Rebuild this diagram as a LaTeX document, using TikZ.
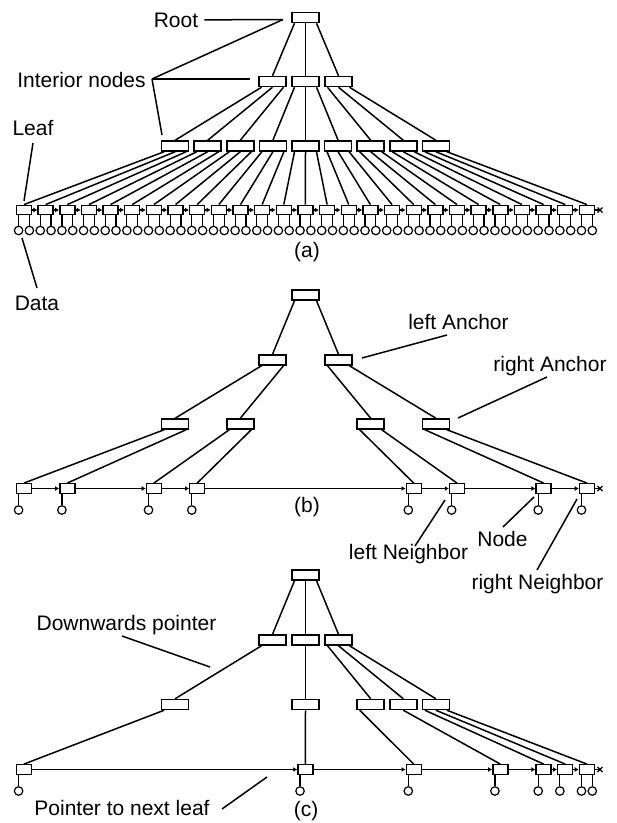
\documentclass[tikz,border=0pt]{standalone}
\usepackage{fontspec}
\setmainfont{Liberation Sans}
\usetikzlibrary{arrows.meta}
\begin{document}
\begin{tikzpicture}[x=1pt,y=-1pt,
  inode/.style={draw, line width=1.5pt, minimum width=27pt, minimum height=10pt, inner sep=0pt},
  lnode/.style={draw, line width=1.4pt, minimum width=15pt, minimum height=9.5pt, inner sep=0pt},
  dnode/.style={draw, circle, line width=1.2pt, minimum size=8.5pt, inner sep=0pt},
  lbl/.style={font=\fontsize{21}{25}\selectfont, inner sep=0pt, anchor=base},
  edge/.style={line width=1.5pt},
  stem/.style={line width=1.2pt},
  nxt/.style={line width=1.5pt, -{Latex[length=4pt,width=5pt]}},
  crossmark/.style={line width=1.2pt}]
\useasboundingbox (0,0) rectangle (617,823);

% ================= (a) =================
\node[inode] (ar) at (305.5,17.5) {};
\foreach \k in {1,2,3} \node[inode] (a2\k) at ({305.5+(\k-2)*33},81.5) {};
\foreach \j in {1,...,9} \node[inode] (a3\j) at ({305.5+(\j-5)*32.6},146) {};
\foreach \i in {1,...,27} \node[lnode] (al\i) at ({24+(\i-1)*21.65},210) {};
\foreach \i in {1,...,27} {
  \node[dnode] (adl\i) at ({24+(\i-1)*21.65-5.4},230.5) {};
  \node[dnode] (adr\i) at ({24+(\i-1)*21.65+5.4},230.5) {};
  \draw[stem] (adl\i.north |- al\i.south) -- (adl\i.north);
  \draw[stem] (adr\i.north |- al\i.south) -- (adr\i.north);
}
\foreach \k in {1,2,3} \draw[edge] ([xshift={(\k-2)*11}]ar.south) -- (a2\k.north);
\foreach \k in {1,2,3} \foreach \c in {1,2,3} {
  \pgfmathtruncatemacro\jj{3*(\k-1)+\c}
  \draw[edge] ([xshift={(\c-2)*11}]a2\k.south) -- (a3\jj.north);
}
\foreach \k in {1,...,9} \foreach \c in {1,2,3} {
  \pgfmathtruncatemacro\ii{3*(\k-1)+\c}
  \draw[edge] ([xshift={(\c-2)*11}]a3\k.south) -- (al\ii.north);
}
\foreach \i [evaluate=\i as \n using int(\i+1)] in {1,...,26} \draw[nxt] (al\i.east) -- (al\n.west);
\coordinate (aend) at (600,210);
\draw[edge] (al27.east) -- (aend);
\draw[crossmark] ([shift={(-2.5,-2.5)}]aend) -- ([shift={(2.5,2.5)}]aend);
\draw[crossmark] ([shift={(-2.5,2.5)}]aend) -- ([shift={(2.5,-2.5)}]aend);

\node[lbl] (lroot) at (176,27) {Root};
\coordinate (proot) at (283,19.5);
\draw[edge] ([xshift=6]lroot.east) -- (proot);
\node[lbl] (lint) at (81.5,87) {Interior nodes};
\coordinate (sint) at (152,79);
\coordinate (pint2) at (250,79);
\coordinate (pint3) at (162,135);
\draw[edge] (sint) -- (proot);
\draw[edge] (sint) -- (pint2);
\draw[edge] (sint) -- (pint3);
\node[lbl] (lleaf) at (33,135) {Leaf};
\coordinate (sleaf) at (33,143);
\coordinate (pleaf) at (24,201);
\draw[edge] (sleaf) -- (pleaf);
\node[lbl] (ldata) at (37,310) {Data};
\coordinate (sdata) at (37,288);
\coordinate (pdata) at (22,238);
\draw[edge] (sdata) -- (pdata);
\node[lbl] (capa) at (307,257) {(a)};

% ================= (b) =================
\node[inode] (br) at (305.5,295) {};
\node[inode] (b21) at (272.5,360) {};
\node[inode] (b23) at (338.5,360) {};
\foreach \j in {1,3,7,9} \node[inode] (b3\j) at ({305.5+(\j-5)*32.6},424) {};
\foreach \i in {1,3,7,9,19,21,25,27} {
  \node[lnode] (bl\i) at ({24+(\i-1)*21.65},488.5) {};
  \node[dnode] (bd\i) at ({24+(\i-1)*21.65-5.4},510) {};
  \draw[stem] (bd\i.north |- bl\i.south) -- (bd\i.north);
}
\foreach \p/\o/\c in {br/-11/b21, br/11/b23, b21/-11/b31, b21/11/b33, b23/-11/b37, b23/11/b39,
  b31/-11/bl1, b31/11/bl3, b33/-11/bl7, b33/11/bl9, b37/-11/bl19, b37/11/bl21, b39/-11/bl25, b39/11/bl27}
  \draw[edge] ([xshift=\o]\p.south) -- (\c.north);
\foreach \a/\b in {1/3, 3/7, 7/9, 9/19, 19/21, 21/25, 25/27} \draw[nxt] (bl\a.east) -- (bl\b.west);
\coordinate (bend) at (600,488.5);
\draw[edge] (bl27.east) -- (bend);
\draw[crossmark] ([shift={(-2.5,-2.5)}]bend) -- ([shift={(2.5,2.5)}]bend);
\draw[crossmark] ([shift={(-2.5,2.5)}]bend) -- ([shift={(2.5,-2.5)}]bend);

\node[lbl] (lla) at (458.5,329) {left Anchor};
\coordinate (slla) at (447,335);
\coordinate (plla) at (362,358);
\draw[edge] (slla) -- (plla);
\node[lbl] (lra) at (550,371) {right Anchor};
\coordinate (slra) at (547,377);
\coordinate (plra) at (458,418);
\draw[edge] (slra) -- (plra);
\node[lbl] (capb) at (307,512) {(b)};
\node[lbl] (lln) at (408.5,559) {left Neighbor};
\coordinate (slln) at (415,546);
\coordinate (plln) at (445,500);
\draw[edge] (slln) -- (plln);
\node[lbl] (lnode) at (502.5,546) {Node};
\coordinate (slnode) at (503,527);
\coordinate (plnode) at (534,497);
\draw[edge] (slnode) -- (plnode);
\node[lbl] (lrn) at (537.5,589) {right Neighbor};
\coordinate (slrn) at (537,570);
\coordinate (plrn) at (577,499);
\draw[edge] (slrn) -- (plrn);

% ================= (c) =================
\node[inode] (cr) at (305.5,575) {};
\foreach \k in {1,2,3} \node[inode] (c2\k) at ({305.5+(\k-2)*33},640) {};
\foreach \j in {1,5,7,8,9} \node[inode] (c3\j) at ({305.5+(\j-5)*32.6},704.5) {};
\foreach \i in {1,14,19,23,25,26,27} {
  \node[lnode] (cl\i) at ({24+(\i-1)*21.65},769.5) {};
  \node[dnode] (cd\i) at ({24+(\i-1)*21.65-5.4},791) {};
  \draw[stem] (cd\i.north |- cl\i.south) -- (cd\i.north);
}
\node[dnode] (cdx27) at ({24+26*21.65+5.4},791) {};
\draw[stem] (cdx27.north |- cl27.south) -- (cdx27.north);
\foreach \p/\o/\c in {cr/-11/c21, cr/0/c22, cr/11/c23, c21/-11/c31, c22/0/c35,
  c23/-11/c37, c23/0/c38, c23/11/c39,
  c31/-11/cl1, c35/0/cl14, c37/-11/cl19, c38/0/cl23, c39/-11/cl25, c39/0/cl26, c39/11/cl27}
  \draw[edge] ([xshift=\o]\p.south) -- (\c.north);
\foreach \a/\b in {1/14, 14/19, 19/23, 23/25, 25/26, 26/27} \draw[nxt] (cl\a.east) -- (cl\b.west);
\coordinate (cend) at (600,769.5);
\draw[edge] (cl27.east) -- (cend);
\draw[crossmark] ([shift={(-2.5,-2.5)}]cend) -- ([shift={(2.5,2.5)}]cend);
\draw[crossmark] ([shift={(-2.5,2.5)}]cend) -- ([shift={(2.5,-2.5)}]cend);

\node[lbl] (ldp) at (126.5,630) {Downwards pointer};
\coordinate (sdp) at (122,636);
\coordinate (pdp) at (210,667);
\draw[edge] (sdp) -- (pdp);
\node[lbl] (lpn) at (122,815) {Pointer to next leaf};
\coordinate (spn) at (222,809);
\coordinate (ppn) at (267,777);
\draw[edge] (spn) -- (ppn);
\node[lbl] (capc) at (306,816) {(c)};
\end{tikzpicture}
\end{document}
